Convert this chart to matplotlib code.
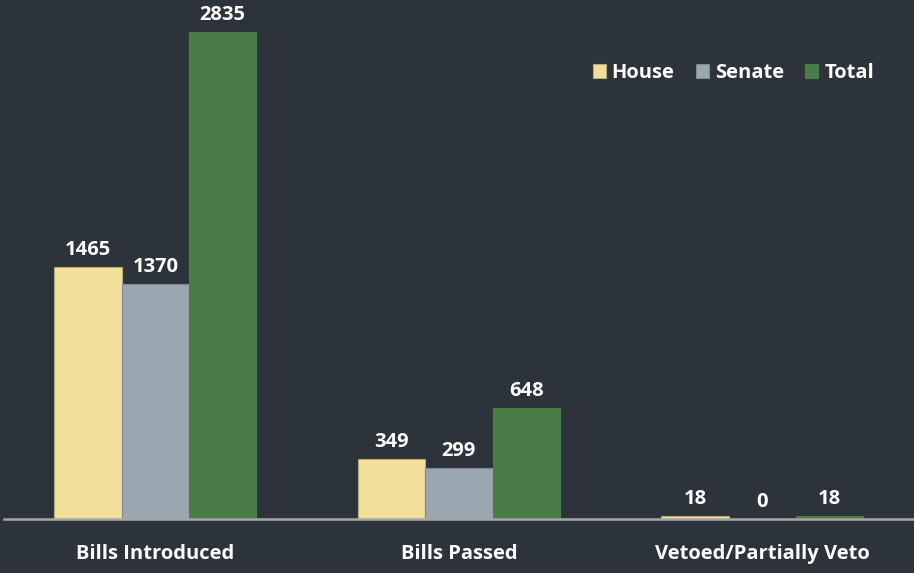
import matplotlib.pyplot as plt
import numpy as np

# chart data
categories = ['Bills Introduced', 'Bills Passed', 'Vetoed/Partially Veto']
house = [1465, 349, 18]
senate = [1370, 299, 0]
total = [2835, 648, 18]
series_names = ['House', 'Senate', 'Total']

bg = '#2d333b'
colors = ['#f2df9a', '#9ba7b0', '#497c47']
edges = ['#b8a97a', '#7f8a93', '#497c47']

plt.rcParams['font.family'] = ['Open Sans', 'DejaVu Sans']
plt.rcParams['font.weight'] = 'bold'
fs = 14.5

fig = plt.figure(figsize=(9.14, 5.73), dpi=100, facecolor=bg)
ax = fig.add_axes([0.004, 0.0942, 0.996, 0.8995], facecolor=bg)

x = np.arange(len(categories))
w = 0.222
for i, (vals, name) in enumerate(zip([house, senate, total], series_names)):
    bars = ax.bar(x + (i - 1) * w, vals, w, color=colors[i], edgecolor=edges[i],
                  linewidth=0.8, label=name)
    for b, v in zip(bars, vals):
        ax.annotate(str(v), (b.get_x() + b.get_width() / 2, v),
                    xytext=(0, 5), textcoords='offset points',
                    ha='center', va='bottom', color='white',
                    fontsize=fs, fontweight='bold')

ax.set_xlim(-0.5, 2.5)
ax.set_ylim(0, 3000)
ax.set_yticks([])
ax.set_xticks(x)
ax.set_xticklabels(categories, color='white', fontsize=fs, fontweight='bold')
ax.tick_params(axis='x', length=0, pad=18)
for s in ['top', 'right', 'left']:
    ax.spines[s].set_visible(False)
ax.spines['bottom'].set_color('#a6a6a6')
ax.spines['bottom'].set_linewidth(1.8)

leg = ax.legend(loc='upper right', bbox_to_anchor=(0.976, 0.92), ncol=3,
                frameon=False, handlelength=0.65, handleheight=0.65,
                handletextpad=0.3, columnspacing=1.05,
                prop={'size': fs, 'weight': 'bold'})
for t in leg.get_texts():
    t.set_color('white')

fig.savefig('out.png', dpi=100, facecolor=bg)
